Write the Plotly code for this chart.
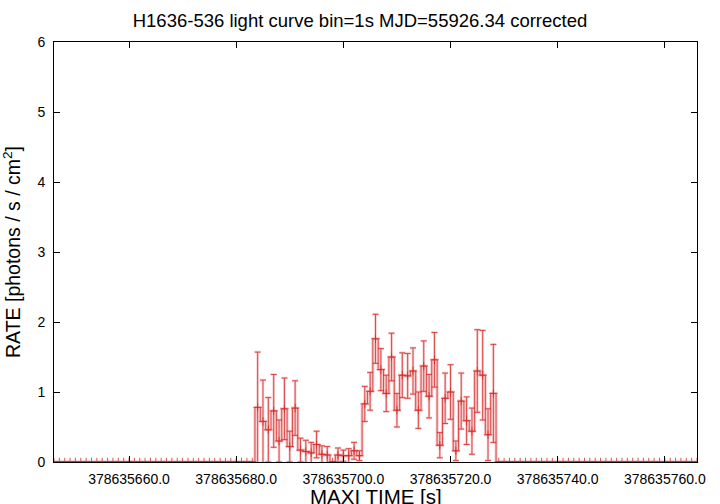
import plotly.graph_objects as go

title_text = "H1636-536 light curve bin=1s MJD=55926.34 corrected"
x_label = "MAXI TIME [s]"
y_label = "RATE [photons / s / cm<sup>2</sup>]"

t_start = 378635646
n_bins = 121
times = [t_start + i for i in range(n_bins)]

zeros_before = [0.0] * 38
zeros_after = [0.0] * 38
burst_rate = [0.78, 0.58, 0.46, 0.73, 0.30, 0.76, 0.22, 0.77, 0.17, 0.15,
              0.13, 0.25, 0.11, 0.10, 0.00, 0.10, 0.09, 0.09, 0.16, 0.09,
              0.83, 1.01, 1.76, 1.32, 0.98, 1.50, 0.74, 1.24, 1.23, 1.30,
              0.74, 1.37, 0.94, 1.46, 0.24, 0.91, 1.00, 0.16, 0.87, 0.59,
              0.44, 1.30, 1.24, 0.39, 0.98]
burst_err = [0.79, 0.59, 0.46, 0.52, 0.30, 0.44, 0.22, 0.39, 0.17, 0.16,
             0.15, 0.19, 0.12, 0.12, 0.00, 0.10, 0.08, 0.10, 0.12, 0.07,
             0.25, 0.27, 0.35, 0.30, 0.26, 0.34, 0.24, 0.32, 0.32, 0.33,
             0.26, 0.36, 0.31, 0.39, 0.18, 0.36, 0.39, 0.14, 0.40, 0.34,
             0.33, 0.59, 0.64, 0.37, 0.70]
rate = zeros_before + burst_rate + zeros_after
rate_err = zeros_before + burst_err + zeros_after

x_tickvals = [378635660, 378635680, 378635700, 378635720, 378635740, 378635760]
x_ticktext = ["378635660.0", "378635680.0", "378635700.0", "378635720.0",
              "378635740.0", "378635760.0"]
y_tickvals = [0, 1, 2, 3, 4, 5, 6]

font_family = "Liberation Sans, Arial, Helvetica, sans-serif"
pink = "rgba(240,150,150,0.5)"
red = "rgba(210,45,45,0.8)"

fig = go.Figure()
fig.add_trace(go.Scatter(
    x=times, y=rate, mode="lines", line=dict(shape="hvh", color=pink, width=3),
    error_y=dict(type="data", array=rate_err, color=pink, thickness=2.5, width=3),
    hoverinfo="skip", showlegend=False))
fig.add_trace(go.Scatter(
    x=times, y=rate, mode="lines+markers",
    line=dict(shape="hvh", color=red, width=1),
    marker=dict(symbol="cross-thin", size=6, line=dict(color=red, width=1)),
    error_y=dict(type="data", array=rate_err, color=red, thickness=1, width=3),
    showlegend=False))

fig.update_layout(
    width=720, height=504,
    margin=dict(l=54, r=23, t=42, b=42),
    paper_bgcolor="white", plot_bgcolor="white",
    font=dict(family=font_family, color="black", size=14),
    title=dict(text=title_text, x=0.5, xanchor="center", y=0.96, yanchor="middle",
               font=dict(size=18.5, family=font_family)),
    annotations=[dict(text=x_label, xref="paper", yref="paper", x=0.5, y=-0.083,
                      xanchor="center", yanchor="middle", showarrow=False,
                      font=dict(size=20.5, family=font_family, color="black"))],
)
fig.update_xaxes(
    range=[t_start, t_start + n_bins - 1],
    tickvals=x_tickvals, ticktext=x_ticktext,
    ticks="inside", ticklen=6, tickcolor="black",
    showline=True, linecolor="black", linewidth=1, mirror="ticks",
    showgrid=False, zeroline=False,
    tickfont=dict(size=14), ticklabelstandoff=4,
    automargin=False,
)
fig.update_yaxes(
    range=[0, 6], tickvals=y_tickvals,
    ticks="inside", ticklen=6, tickcolor="black",
    showline=True, linecolor="black", linewidth=1, mirror="ticks",
    showgrid=False, zeroline=False,
    tickfont=dict(size=14), ticklabelstandoff=5,
    title=dict(text=y_label, font=dict(size=19.5), standoff=12),
    automargin=False,
)

fig.write_html("out.html", config={"displayModeBar": False},
               post_script="document.body.style.margin='0px';")
